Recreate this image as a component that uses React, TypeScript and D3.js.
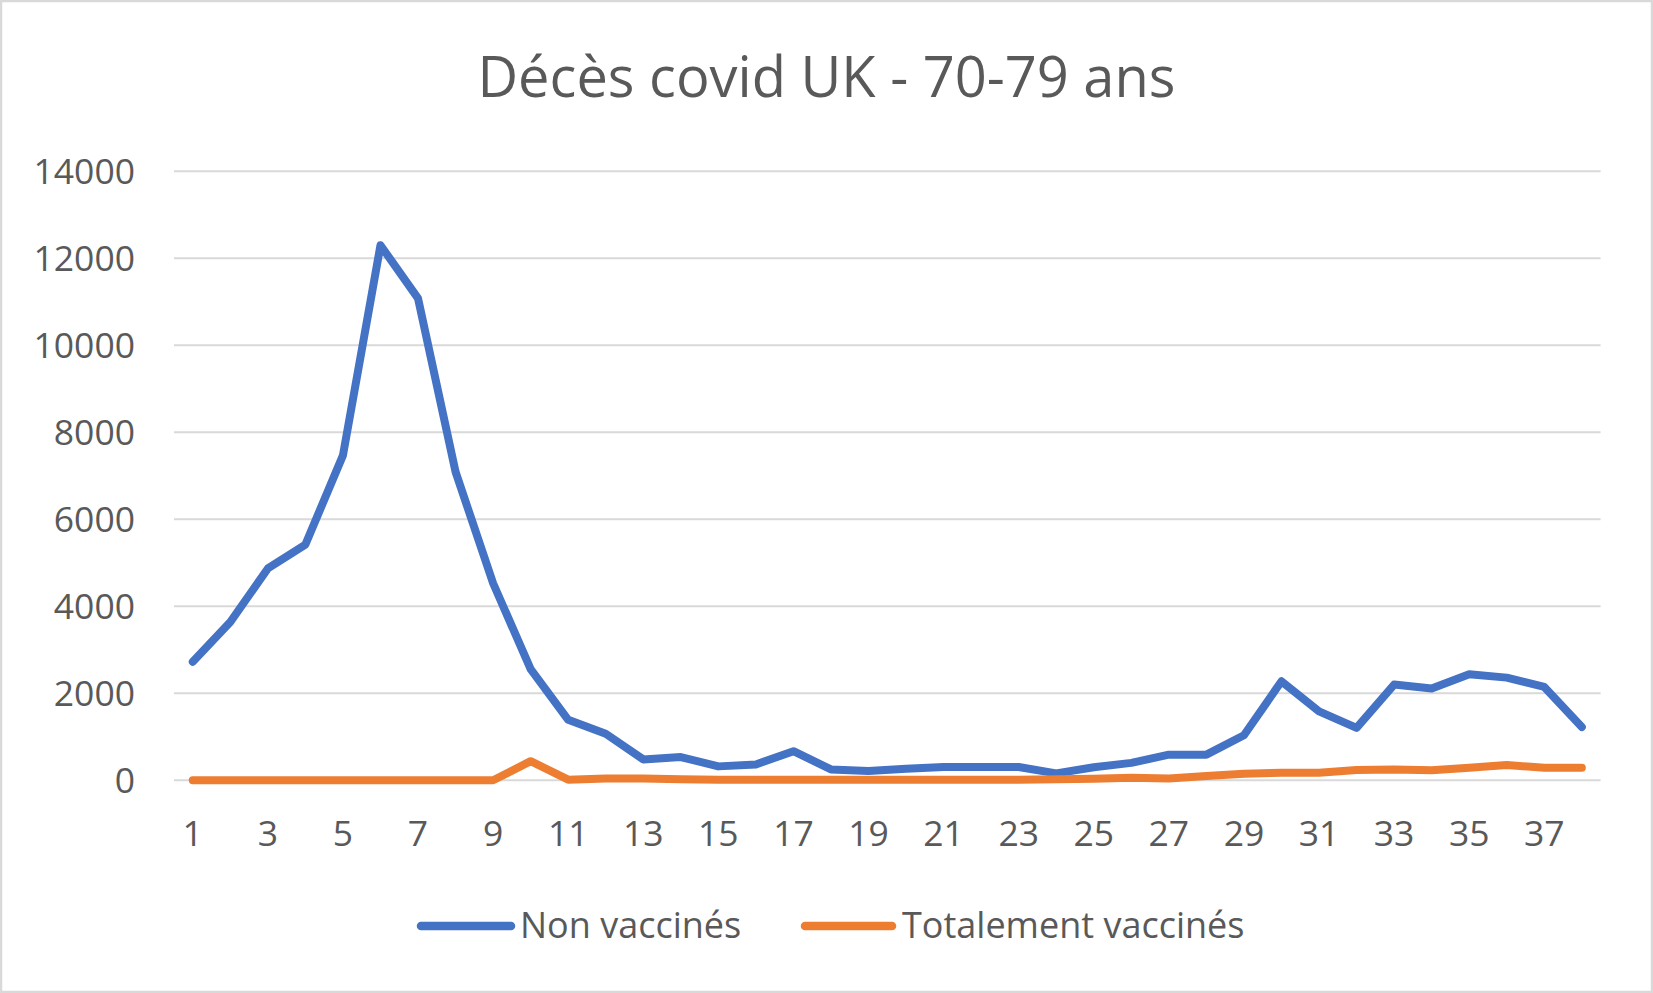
import React from 'react'
import * as d3 from 'd3'

// semaines (axe horizontal)
const weeks = [
  '1', '2', '3', '4', '5', '6', '7', '8', '9', '10',
  '11', '12', '13', '14', '15', '16', '17', '18', '19', '20',
  '21', '22', '23', '24', '25', '26', '27', '28', '29', '30',
  '31', '32', '33', '34', '35', '36', '37', '38'
]

const nonVaccines = [
  2726, 3640, 4870, 5420, 7470, 12300, 11080, 7090, 4530, 2555,
  1390, 1070, 480, 535, 320, 365, 670, 250, 215, 265,
  305, 305, 305, 160, 300, 400, 590, 590, 1035, 2275,
  1585, 1205, 2200, 2110, 2440, 2360, 2145, 1225
]

const totalementVaccines = [
  0, 0, 0, 0, 0, 0, 0, 0, 0, 440,
  15, 40, 40, 25, 15, 15, 15, 15, 15, 15,
  15, 15, 15, 25, 35, 60, 40, 100, 150, 175,
  175, 235, 250, 230, 290, 350, 290, 290
]

const yTicks = [0, 2000, 4000, 6000, 8000, 10000, 12000, 14000]

const series = [
  { name: 'Non vaccinés', values: nonVaccines, color: '#4472C4' },
  { name: 'Totalement vaccinés', values: totalementVaccines, color: '#ED7D31' }
]

const W = 1653
const H = 993
const FONT = '"Open Sans", "Noto Sans", sans-serif'
const TEXT = '#595959'
const GRID = '#D9D9D9'

export default function App() {
  const x = d3.scalePoint<string>().domain(weeks).range([174, 1600.6]).padding(0.5)
  const y = d3.scaleLinear().domain([0, 14000]).range([780.3, 171.3])

  const line = d3.line<number>()
    .x((_, i) => x(weeks[i]) as number)
    .y(d => y(d))

  // légende
  const legend = [
    { x1: 421, x2: 511, tx: 520 },
    { x1: 805, x2: 892, tx: 902 }
  ]

  return (
    <svg
      width={W}
      height={H}
      style={{ position: 'absolute', left: 0, top: 0, background: '#fff' }}
      fontFamily={FONT}
    >
      <rect x={1} y={1} width={W - 2} height={H - 2} fill="#fff" stroke={GRID} strokeWidth={2.5} />

      <text x={826.5} y={96.5} textAnchor="middle" fontSize={56} fill={TEXT}>
        Décès covid UK - 70-79 ans
      </text>

      {/* grille + axe y */}
      {yTicks.map(t => (
        <g key={t}>
          <line x1={174} x2={1600.6} y1={y(t)} y2={y(t)} stroke={GRID} strokeWidth={2} />
          <text x={135} y={y(t)} dy="0.357em" textAnchor="end" fontSize={35.5} fill={TEXT}>
            {t}
          </text>
        </g>
      ))}

      {/* axe x : une étiquette sur deux */}
      {weeks.filter((_, i) => i % 2 === 0).map(w => (
        <text key={w} x={x(w)} y={846} textAnchor="middle" fontSize={35.5} fill={TEXT}>
          {w}
        </text>
      ))}

      {series.map(s => (
        <path
          key={s.name}
          d={line(s.values) || ''}
          fill="none"
          stroke={s.color}
          strokeWidth={8}
          strokeLinejoin="round"
          strokeLinecap="round"
        />
      ))}

      {series.map((s, i) => (
        <g key={s.name}>
          <line
            x1={legend[i].x1}
            x2={legend[i].x2}
            y1={926}
            y2={926}
            stroke={s.color}
            strokeWidth={8.5}
            strokeLinecap="round"
          />
          <text x={legend[i].tx} y={938} fontSize={36} fill={TEXT}>
            {s.name}
          </text>
        </g>
      ))}
    </svg>
  )
}
